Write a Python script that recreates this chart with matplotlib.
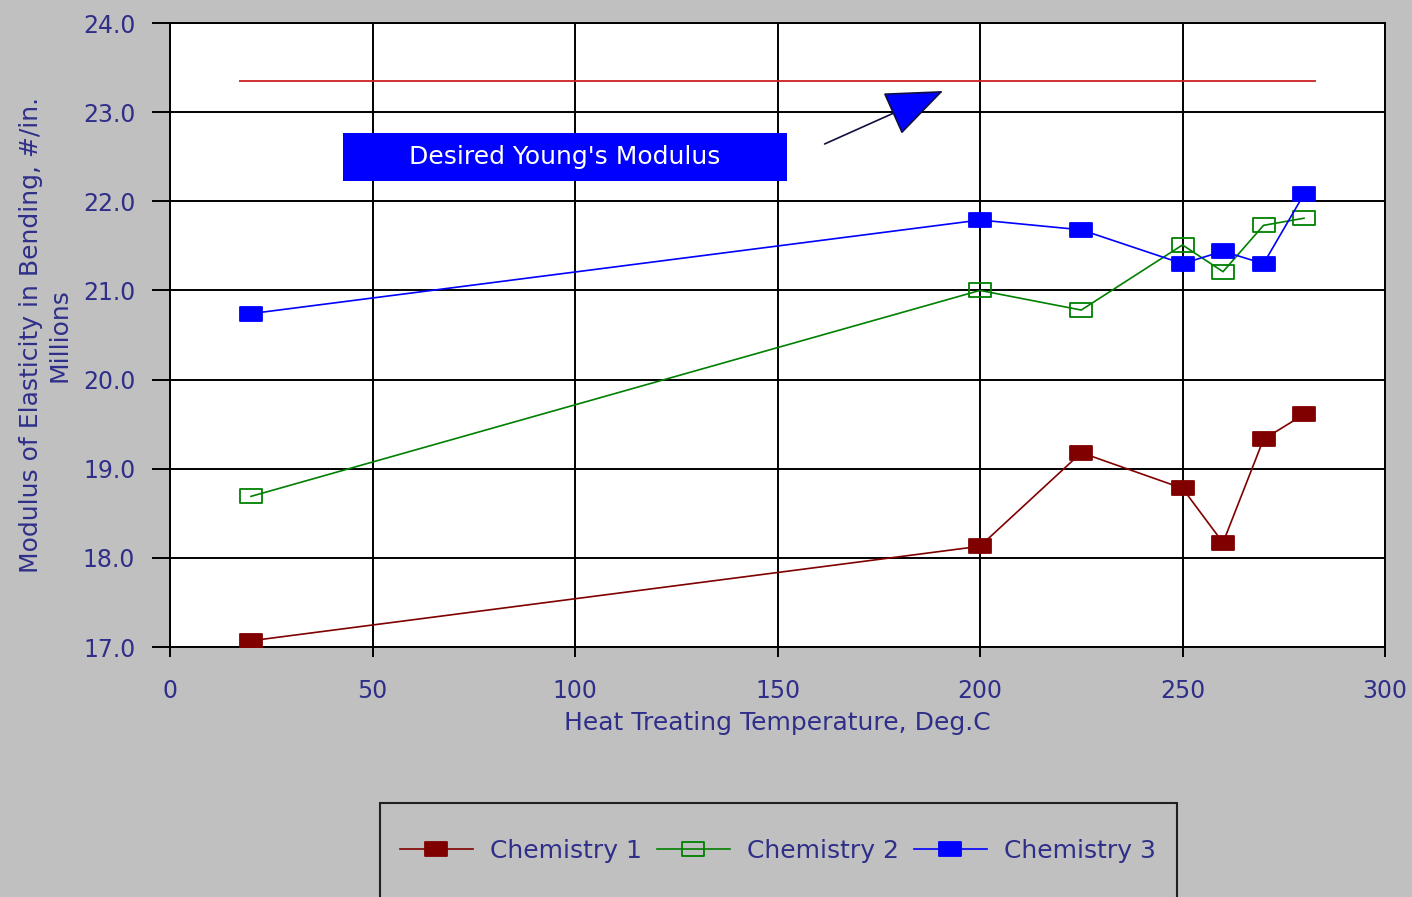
import matplotlib

matplotlib.use("Agg")
import matplotlib.pyplot as plt
from matplotlib.patches import Rectangle
from matplotlib.path import Path

# values
temps = [20, 200, 225, 250, 260, 270, 280]
chem1 = [17.07, 18.13, 19.18, 18.78, 18.17, 19.33, 19.61]
chem2 = [18.69, 21.00, 20.78, 21.51, 21.21, 21.73, 21.81]
chem3 = [20.74, 21.79, 21.68, 21.30, 21.44, 21.30, 22.08]
series_names = ["Chemistry 1", "Chemistry 2", "Chemistry 3"]
desired_modulus = 23.35
desired_span = [17, 283]
x_ticks = [0, 50, 100, 150, 200, 250, 300]
y_ticks = [17.0, 18.0, 19.0, 20.0, 21.0, 22.0, 23.0, 24.0]

BG = "#C0C0C0"
TEXT = "#2F2F8A"
COLORS = ["#800000", "#008000", "#0000FF"]
FILLS = ["#800000", "none", "#0000FF"]

# wide, flat square marker like the original
rect_marker = Path([(-1, -0.62), (1, -0.62), (1, 0.62), (-1, 0.62), (-1, -0.62)],
                   [Path.MOVETO, Path.LINETO, Path.LINETO, Path.LINETO, Path.CLOSEPOLY])

plt.rcParams["font.family"] = "DejaVu Sans"

W, H = 1412, 897
fig = plt.figure(figsize=(W / 100, H / 100), dpi=100, facecolor=BG)
ax = fig.add_axes([170 / W, 1 - 647 / H, 1215 / W, 624 / H])
ax.set_facecolor("white")

for name, vals, color, fill in zip(series_names, [chem1, chem2, chem3], COLORS, FILLS):
    ax.plot(temps, vals, color=color, linewidth=1.2, marker=rect_marker, markersize=16,
            markerfacecolor=fill, markeredgecolor=color, markeredgewidth=1.3, label=name, zorder=3)

ax.hlines(desired_modulus, desired_span[0], desired_span[1], color="#CC2222", linewidth=1.3, zorder=2)

# label box and arrow
ax.add_patch(Rectangle((42.7, 22.23), 109.6, 0.54, facecolor="#0000FF", edgecolor="none", zorder=4))
ax.text(97.5, 22.5, "Desired Young's Modulus", ha="center", va="center", color="white",
        fontsize=18, zorder=5)
ax.annotate("", xy=(191.5, 23.25), xytext=(161, 22.63),
            arrowprops=dict(arrowstyle="-|>,head_length=1.25,head_width=0.5", mutation_scale=30,
                            facecolor="#0000FF", edgecolor="#101040", linewidth=1.2), zorder=5)

ax.set_xlim(0, 300)
ax.set_ylim(17, 24)
ax.set_xticks(x_ticks)
ax.set_yticks(y_ticks)
ax.set_yticklabels([f"{v:.1f}" for v in y_ticks])
ax.grid(True, color="black", linewidth=1.4)
ax.set_axisbelow(True)
for s in ax.spines.values():
    s.set_linewidth(1.4)
    s.set_color("black")
ax.tick_params(axis="y", direction="out", length=13, width=1.4, pad=12, labelsize=17, labelcolor=TEXT)
ax.tick_params(axis="x", direction="out", length=7, width=1.4, pad=16, labelsize=17, labelcolor=TEXT)

ax.set_xlabel("Heat Treating Temperature, Deg.C", fontsize=18, color=TEXT, labelpad=6)
ax.set_ylabel("Modulus of Elasticity in Bending, #/in.\nMillions", fontsize=18, color=TEXT,
              labelpad=8, linespacing=1.25)

# legend frame drawn separately so it can run off the bottom edge like the original
fig.patches.append(Rectangle((380 / W, 1 - 899 / H), 797 / W, 96 / H, transform=fig.transFigure,
                             facecolor=BG, edgecolor="#202020", linewidth=1.5, zorder=1))
leg = fig.legend(loc="center", bbox_to_anchor=(778 / W, 1 - 851 / H), ncol=3,
                 fontsize=18, frameon=False, handlelength=2.9, handletextpad=0.7, columnspacing=0.6)
for t in leg.get_texts():
    t.set_color(TEXT)

fig.savefig("out.png", dpi=100, facecolor=BG)
